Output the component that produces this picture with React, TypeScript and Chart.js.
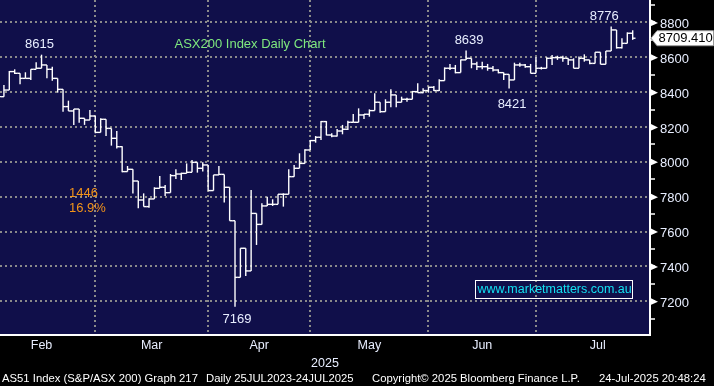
import React, { useEffect, useRef } from 'react';
import { Chart, registerables } from 'chart.js';

Chart.register(...registerables);

// ---- categories: ASX trading sessions (2025), grouped by month ----
const monthNames = ['Feb', 'Mar', 'Apr', 'May', 'Jun', 'Jul'];
const febDays = [3, 4, 5, 6, 7, 10, 11, 12, 13, 14, 17, 18, 19, 20, 21, 24, 25, 26, 27, 28];
const marDays = [3, 4, 5, 6, 7, 10, 11, 12, 13, 14, 17, 18, 19, 20, 21, 24, 25, 26, 27, 28, 31];
const aprDays = [1, 2, 3, 4, 7, 8, 9, 10, 11, 14, 15, 16, 17, 22, 23, 24, 28, 29, 30];
const mayDays = [1, 2, 5, 6, 7, 8, 9, 12, 13, 14, 15, 16, 19, 20, 21, 22, 23, 26, 27, 28, 29, 30];
const junDays = [2, 3, 4, 5, 6, 10, 11, 12, 13, 16, 17, 18, 19, 20, 23, 24, 25, 26, 27, 30];
const julDays = [1, 2, 3, 4, 7, 8, 9, 10, 11, 14, 15, 16, 17, 18, 21, 22, 23, 24];
const monthSessions = [febDays, marDays, aprDays, mayDays, junDays, julDays];
const julyWeekdays = 23;

// ---- OHLC series (AS51 daily) ----
const opens = [
  8520, 8374, 8374, 8412, 8518, 8508, 8479, 8479, 8531, 8537, 8556, 8531, 8479, 8416, 8317, 8292, 8303, 8250, 8240, 8263,
  8169, 8244, 8192, 8135, 8087, 7944, 7957, 7890, 7781, 7743, 7787, 7848, 7854, 7823, 7921, 7930, 7934, 7940, 7997, 7963, 7982,
  7835, 7925, 7928, 7854, 7662, 7337, 7504, 7374, 7704, 7641, 7747, 7756, 7756, 7814, 7814, 7915, 7963, 7991, 8068,
  8122, 8141, 8231, 8154, 8148, 8177, 8187, 8227, 8227, 8269, 8273, 8294, 8342, 8288, 8342, 8384, 8342, 8359, 8359, 8403, 8397, 8409,
  8428, 8409, 8466, 8537, 8537, 8512, 8585, 8594, 8562, 8546, 8546, 8537, 8527, 8512, 8502, 8470, 8556, 8556, 8546, 8508,
  8537, 8537, 8594, 8598, 8598, 8594, 8585, 8537, 8594, 8585, 8565, 8629, 8560, 8636, 8757, 8655, 8680, 8738,
];
const highs = [
  8530, 8430, 8441, 8521, 8531, 8508, 8514, 8531, 8571, 8615, 8556, 8546, 8479, 8416, 8351, 8303, 8303, 8250, 8298, 8263,
  8250, 8244, 8192, 8177, 8090, 7976, 7957, 7890, 7819, 7791, 7854, 7919, 7867, 7930, 7957, 7938, 7991, 8011, 7997, 7997, 7982,
  7925, 7976, 7928, 7854, 7662, 7504, 7504, 7838, 7704, 7762, 7800, 7785, 7814, 7819, 7957, 7982, 8049, 8072, 8125,
  8148, 8234, 8234, 8164, 8188, 8212, 8236, 8275, 8307, 8275, 8301, 8393, 8342, 8359, 8416, 8384, 8374, 8368, 8407, 8451, 8422, 8431,
  8435, 8474, 8542, 8562, 8556, 8588, 8639, 8594, 8575, 8575, 8562, 8550, 8531, 8512, 8502, 8569, 8569, 8562, 8562, 8600,
  8545, 8600, 8613, 8609, 8609, 8594, 8594, 8604, 8617, 8585, 8629, 8629, 8636, 8776, 8757, 8709, 8743, 8755,
];
const lows = [
  8340, 8350, 8374, 8412, 8504, 8445, 8479, 8470, 8531, 8537, 8479, 8466, 8397, 8288, 8292, 8212, 8225, 8212, 8240, 8164,
  8169, 8148, 8093, 8076, 7940, 7944, 7819, 7733, 7743, 7737, 7787, 7848, 7804, 7823, 7902, 7896, 7934, 7940, 7938, 7944, 7835,
  7835, 7925, 7766, 7662, 7169, 7337, 7345, 7374, 7523, 7641, 7747, 7747, 7756, 7743, 7814, 7915, 7963, 7991, 8068,
  8110, 8125, 8152, 8141, 8145, 8158, 8183, 8227, 8227, 8246, 8259, 8294, 8282, 8288, 8313, 8313, 8342, 8345, 8359, 8397, 8393, 8397,
  8407, 8407, 8466, 8527, 8508, 8512, 8585, 8537, 8527, 8531, 8523, 8518, 8508, 8470, 8421, 8470, 8546, 8540, 8508, 8508,
  8530, 8537, 8556, 8585, 8575, 8556, 8537, 8537, 8575, 8560, 8565, 8560, 8560, 8636, 8650, 8650, 8680, 8700,
];
const closes = [
  8374, 8374, 8412, 8518, 8508, 8479, 8479, 8531, 8537, 8556, 8531, 8479, 8416, 8317, 8292, 8303, 8250, 8240, 8263, 8169,
  8244, 8192, 8135, 8087, 7944, 7957, 7890, 7781, 7743, 7787, 7848, 7854, 7823, 7921, 7930, 7934, 7940, 7997, 7963, 7982, 7835,
  7925, 7928, 7854, 7662, 7337, 7504, 7374, 7704, 7641, 7747, 7756, 7756, 7814, 7814, 7915, 7963, 7991, 8068, 8122,
  8141, 8231, 8154, 8148, 8177, 8187, 8227, 8227, 8269, 8273, 8294, 8342, 8288, 8342, 8384, 8342, 8359, 8359, 8403, 8397, 8409, 8428,
  8409, 8466, 8537, 8537, 8512, 8585, 8594, 8562, 8546, 8546, 8537, 8527, 8512, 8502, 8470, 8556, 8556, 8546, 8508, 8537,
  8537, 8594, 8598, 8598, 8594, 8585, 8537, 8594, 8585, 8565, 8629, 8560, 8636, 8757, 8655, 8680, 8738, 8709.41,
];

// ---- axis ticks ----
const priceLabels = [7200, 7400, 7600, 7800, 8000, 8200, 8400, 8600, 8800];
const priceMinor = [7100, 7300, 7500, 7700, 7900, 8100, 8300, 8500, 8700, 8900];
const yearLabel = '2025';

// ---- marked extremes (session index + which price) ----
const markedHighs = [9, 88, 115];
const markedLows = [96, 45];

const NAVY = '#100f4a';
const GRID = '#8a8a8a';
const TXT = '#e8eeff';
const FONT = '"Liberation Sans", Arial, sans-serif';

// month boundaries (last session of each month) and label centres
const boundaries: number[] = [];
{
  let n = 0;
  monthSessions.forEach((m) => {
    n += m.length;
    boundaries.push(n - 1);
  });
}
const monthEnds = boundaries.slice(0, -1);
const labelCentres: number[] = monthSessions.map((m, k) => {
  const prev = k === 0 ? -1 : boundaries[k - 1];
  const end = k === monthSessions.length - 1 ? prev + julyWeekdays : boundaries[k];
  return (prev + end) / 2;
});

const overlayPlugin = {
  id: 'overlay',
  beforeDraw(chart: any) {
    const { ctx, chartArea: a, width, height } = chart;
    ctx.save();
    ctx.fillStyle = '#000';
    ctx.fillRect(0, 0, width, height);
    ctx.fillStyle = NAVY;
    ctx.fillRect(a.left, a.top, a.right - a.left, a.bottom - a.top);
    ctx.restore();
  },
  afterDraw(chart: any) {
    const { ctx, chartArea: a } = chart;
    const xs = chart.scales.x;
    const ys = chart.scales.y;
    ctx.save();

    // arrow markers on the price axis
    ctx.fillStyle = '#ffffff';
    priceLabels.forEach((v) => {
      const y = ys.getPixelForValue(v);
      ctx.beginPath();
      ctx.moveTo(a.right, y - 3.5);
      ctx.lineTo(a.right + 8, y + 0.5);
      ctx.lineTo(a.right, y + 4);
      ctx.closePath();
      ctx.fill();
    });

    // extreme labels
    ctx.font = `13px ${FONT}`;
    ctx.fillStyle = TXT;
    ctx.textAlign = 'center';
    ctx.textBaseline = 'middle';
    const hiDx = [-2, 3, -7];
    markedHighs.forEach((i, k) => {
      ctx.fillText(String(highs[i]), xs.getPixelForValue(i) + hiDx[k], ys.getPixelForValue(highs[i]) - 10.5);
    });
    const loDx = [3, 2];
    const loDy = [15.5, 12.5];
    markedLows.forEach((i, k) => {
      ctx.fillText(String(lows[i]), xs.getPixelForValue(i) + loDx[k], ys.getPixelForValue(lows[i]) + loDy[k]);
    });

    // chart title
    ctx.fillStyle = '#7ee87e';
    ctx.fillText('ASX200 Index Daily Chart', 250, 44.5);

    // fall annotation
    ctx.textAlign = 'left';
    ctx.fillStyle = '#f39419';
    ctx.fillText(String(highs[markedHighs[0]] - lows[markedLows[1]]), 69, 193);
    ctx.fillText('16.9%', 69, 208.5);

    // website box
    ctx.font = `12.5px ${FONT}`;
    ctx.strokeStyle = '#ffffff';
    ctx.lineWidth = 1;
    ctx.strokeRect(475.5, 280.5, 157, 18);
    ctx.fillStyle = '#12e0f2';
    ctx.fillText('www.marketmatters.com.au', 477.5, 290);

    // last price box
    const last = closes[closes.length - 1];
    const ly = ys.getPixelForValue(last);
    ctx.fillStyle = '#ffffff';
    ctx.beginPath();
    ctx.moveTo(a.right + 1, ly);
    ctx.lineTo(a.right + 7, ly - 7.5);
    ctx.lineTo(713.5, ly - 7.5);
    ctx.lineTo(713.5, ly + 7.5);
    ctx.lineTo(a.right + 7, ly + 7.5);
    ctx.closePath();
    ctx.fill();
    ctx.strokeStyle = '#9a9a9a';
    ctx.stroke();
    ctx.fillStyle = '#000000';
    ctx.font = `13px ${FONT}`;
    ctx.fillText(last.toFixed(3), 658.5, ly + 0.5);

    // footer
    ctx.font = `11.3px ${FONT}`;
    ctx.fillStyle = '#ffffff';
    ctx.textBaseline = 'alphabetic';
    ctx.fillText('AS51 Index (S&P/ASX 200) Graph 217', 2, 382);
    ctx.fillText('Daily 25JUL2023-24JUL2025', 206, 382);
    ctx.fillText('Copyright\u00a9 2025 Bloomberg Finance L.P.', 372, 382);
    ctx.fillText('24-Jul-2025 20:48:24', 599, 382);

    ctx.restore();
  },
};

export default function App() {
  const ref = useRef<HTMLCanvasElement | null>(null);

  useEffect(() => {
    document.body.style.margin = '0';
    document.body.style.background = '#000';
    const canvas = ref.current;
    if (!canvas) return;

    const xTicks = [...monthEnds, ...labelCentres].sort((p, q) => p - q);
    const endSet = new Set(monthEnds);
    const labelMap = new Map<number, string>();
    labelCentres.forEach((c, k) => labelMap.set(c, monthNames[k]));
    const yTicks = [...priceLabels, ...priceMinor].sort((p, q) => p - q);
    const labelSet = new Set(priceLabels);

    const chart = new Chart(canvas, {
      type: 'scatter',
      data: {
        datasets: [
          {
            type: 'bar',
            data: highs.map((h, i) => ({ x: i, y: [lows[i], h] })) as any,
            backgroundColor: '#ffffff',
            borderWidth: 0,
            barThickness: 1.4,
            inflateAmount: 0,
            xAxisID: 'x',
            yAxisID: 'y',
          } as any,
          {
            type: 'scatter',
            data: opens.map((o, i) => ({ x: i, y: o })),
            pointStyle: 'dash',
            pointRotation: 180,
            pointRadius: 2.8,
            pointBorderColor: '#ffffff',
            pointBackgroundColor: '#ffffff',
            pointBorderWidth: 1.4,
            showLine: false,
            xAxisID: 'x',
            yAxisID: 'y',
          } as any,
          {
            type: 'scatter',
            data: closes.map((c, i) => ({ x: i, y: c })),
            pointStyle: 'dash',
            pointRotation: 0,
            pointRadius: 2.8,
            pointBorderColor: '#ffffff',
            pointBackgroundColor: '#ffffff',
            pointBorderWidth: 1.4,
            showLine: false,
            xAxisID: 'x',
            yAxisID: 'y',
          } as any,
        ],
      },
      options: {
        responsive: false,
        maintainAspectRatio: false,
        animation: false,
        events: [],
        layout: { padding: 0, autoPadding: false },
        plugins: {
          legend: { display: false },
          tooltip: { enabled: false },
          title: { display: false },
        },
        scales: {
          x: {
            type: 'linear',
            position: 'bottom',
            min: 1.27,
            max: 122.22,
            offset: false,
            afterBuildTicks: (s: any) => {
              s.ticks = xTicks.map((v) => ({ value: v }));
            },
            afterFit: (s: any) => {
              s.height = 51;
              s.paddingLeft = 0;
              s.paddingRight = 0;
            },
            grid: {
              offset: false,
              drawTicks: false,
              lineWidth: 2,
              color: (c: any) => (c.tick && endSet.has(c.tick.value) ? GRID : 'rgba(0,0,0,0)'),
            },
            border: { display: true, color: '#ffffff', width: 2, dash: [2, 3] },
            ticks: {
              autoSkip: false,
              maxRotation: 0,
              minRotation: 0,
              padding: 3,
              color: TXT,
              font: { family: FONT, size: 12.5 },
              callback: (v: any) => labelMap.get(Number(v)) ?? '',
            },
            title: {
              display: true,
              text: yearLabel,
              color: TXT,
              font: { family: FONT, size: 12.5 },
              padding: { top: 0, bottom: 14.5 },
            },
          },
          y: {
            type: 'linear',
            position: 'right',
            min: 7006.2,
            max: 8928.8,
            beginAtZero: false,
            afterBuildTicks: (s: any) => {
              s.ticks = yTicks.map((v) => ({ value: v }));
            },
            afterFit: (s: any) => {
              s.width = 64;
              s.paddingTop = 0;
              s.paddingBottom = 0;
            },
            grid: {
              drawTicks: true,
              tickLength: 5,
              tickColor: '#ffffff',
              tickWidth: 1.5,
              tickBorderDash: [],
              lineWidth: 2,
              color: (c: any) => (c.tick && labelSet.has(c.tick.value) ? GRID : 'rgba(0,0,0,0)'),
            },
            border: { display: true, color: '#ffffff', width: 2, dash: [2, 3] },
            ticks: {
              autoSkip: false,
              padding: 5,
              labelOffset: 2,
              color: TXT,
              font: { family: FONT, size: 13 },
              callback: (v: any) => (labelSet.has(Number(v)) ? String(v) : ''),
            },
          },
        },
      } as any,
      plugins: [overlayPlugin],
    });

    return () => chart.destroy();
  }, []);

  return (
    <div style={{ width: 714, height: 386, background: '#000' }}>
      <canvas ref={ref} width={714} height={386} style={{ display: 'block' }} />
    </div>
  );
}
